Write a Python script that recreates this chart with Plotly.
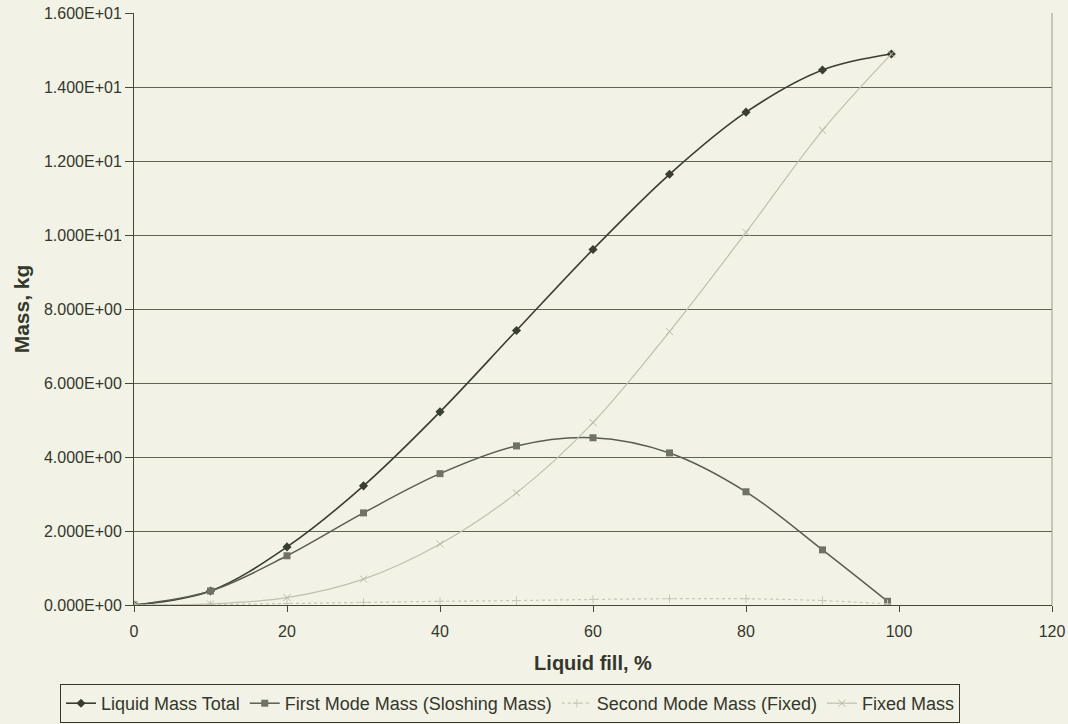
import plotly.graph_objects as go

fill_pct = [0, 10, 20, 30, 40, 50, 60, 70, 80, 90, 99]
total_mass = [0.0, 0.38, 1.57, 3.22, 5.22, 7.42, 9.61, 11.64, 13.32, 14.46, 14.89]
first_mode_x = [0, 10, 20, 30, 40, 50, 60, 70, 80, 90, 98.5]
first_mode = [0.0, 0.38, 1.33, 2.49, 3.55, 4.30, 4.52, 4.11, 3.06, 1.49, 0.10]
second_mode_x = [0, 10, 20, 30, 40, 50, 60, 70, 80, 90, 98.5]
second_mode = [0.0, 0.01, 0.04, 0.07, 0.10, 0.12, 0.15, 0.17, 0.17, 0.12, 0.03]
fixed_x = [0, 10, 20, 30, 40, 50, 60, 70, 80, 90, 99]
fixed_mass = [0.0, 0.03, 0.20, 0.70, 1.65, 3.03, 4.93, 7.39, 10.07, 12.83, 14.89]

y_tickvals = [0, 2, 4, 6, 8, 10, 12, 14, 16]
y_ticktext = ["0.000E+00", "2.000E+00", "4.000E+00", "6.000E+00", "8.000E+00",
              "1.000E+01", "1.200E+01", "1.400E+01", "1.600E+01"]
x_tickvals = [0, 20, 40, 60, 80, 100, 120]

bg = "#f2f2e6"
txt = "#34372c"
fig = go.Figure()
fig.add_trace(go.Scatter(x=fill_pct, y=total_mass, name="Liquid Mass Total",
                         mode="lines+markers", line=dict(color="#3a3d32", width=1.6, shape="spline"),
                         marker=dict(symbol="diamond", size=7, color="#3a3d32")))
fig.add_trace(go.Scatter(x=first_mode_x, y=first_mode, name="First Mode Mass (Sloshing Mass)",
                         mode="lines+markers", line=dict(color="#5a5d52", width=1.5, shape="spline"),
                         marker=dict(symbol="square", size=7, color="#707268")))
fig.add_trace(go.Scatter(x=second_mode_x, y=second_mode, name="Second Mode Mass (Fixed)",
                         mode="lines+markers", line=dict(color="#c8c8b8", width=1.2, dash="dot", shape="spline"),
                         marker=dict(symbol="cross-thin", size=6, color="#c8c8b8", line=dict(color="#c8c8b8", width=1))))
fig.add_trace(go.Scatter(x=fixed_x, y=fixed_mass, name="Fixed Mass",
                         mode="lines+markers", line=dict(color="#c0c0b0", width=1.2, shape="spline"),
                         marker=dict(symbol="x-thin", size=7, color="#b8b8a8", line=dict(color="#b8b8a8", width=1))))

fig.update_layout(
    width=1068, height=724,
    paper_bgcolor=bg, plot_bgcolor=bg,
    margin=dict(l=134, r=16, t=13, b=119, autoexpand=False),
    font=dict(family="Liberation Sans, Arial", color=txt, size=16),
    showlegend=True,
    legend=dict(orientation="h", xref="container", x=60 / 1068, xanchor="left",
                yref="container", y=40 / 724, yanchor="top",
                bordercolor=txt, borderwidth=1, bgcolor=bg,
                font=dict(size=18, color=txt), itemwidth=30, tracegroupgap=0),
    xaxis=dict(range=[0, 120], tickvals=x_tickvals, showgrid=False, zeroline=False,
               showline=True, linecolor="#444838", linewidth=1,
               ticks="outside", ticklen=6, tickcolor="#444838", ticklabelstandoff=6,
               title=dict(text="<b>Liquid fill, %</b>", font=dict(size=20), standoff=16),
               mirror=False),
    yaxis=dict(range=[0, 16], tickvals=y_tickvals, ticktext=y_ticktext,
               showgrid=True, gridcolor="#5f6352", gridwidth=1, zeroline=False,
               showline=True, linecolor="#444838", linewidth=1,
               ticks="outside", ticklen=8, tickcolor="#444838",
               title=dict(text="<b>Mass, kg</b>", font=dict(size=21), standoff=8)),
)
fig.add_shape(type="line", xref="paper", yref="paper", x0=1, x1=1, y0=0, y1=1,
              line=dict(color="#9a9a8c", width=1))
fig.write_html("out.html", config={"displayModeBar": False},
               post_script="document.body.style.margin='0';")
